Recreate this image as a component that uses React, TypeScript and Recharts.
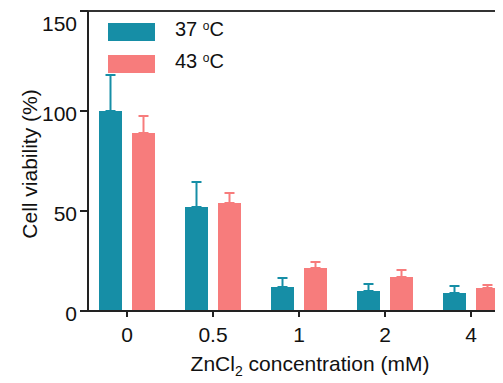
import React from "react";
import {
  BarChart,
  Bar,
  XAxis,
  YAxis,
  ErrorBar,
  ReferenceLine,
  Legend,
  Label,
} from "recharts";

const categories = ["0", "0.5", "1", "2", "4"];
const viability37 = [100, 52, 12, 10, 9];
const error37 = [18, 12.5, 4.5, 3.5, 3.5];
const viability43 = [89, 54, 21.5, 17, 11.5];
const error43 = [8.5, 5, 3, 3.5, 1.5];
const yTicks = [0, 50, 100, 150];

const TEAL = "#168ea6";
const PINK = "#f77c7c";
const AXIS = "#222";
const FONT = "'Liberation Sans', Arial, sans-serif";

const data = categories.map((c, i) => ({
  conc: c,
  v37: viability37[i],
  e37: [0, error37[i]],
  v43: viability43[i],
  e43: [0, error43[i]],
}));

const legendItems = [
  { label: "37", color: TEAL },
  { label: "43", color: PINK },
];

const renderLegend = () => (
  <div style={{ fontFamily: FONT, fontSize: 20, color: "#111" }}>
    {legendItems.map((it, i) => (
      <div
        key={it.label}
        style={{
          display: "flex",
          alignItems: "center",
          height: 18,
          marginBottom: i === 0 ? 14 : 0,
        }}
      >
        <span
          style={{
            display: "inline-block",
            width: 47,
            height: 18,
            background: it.color,
          }}
        />
        <span style={{ marginLeft: 20, position: "relative", top: -3, whiteSpace: "nowrap" }}>
          {it.label}{" "}
          <sup style={{ fontSize: 12, verticalAlign: "6px" }}>o</sup>C
        </span>
      </div>
    ))}
  </div>
);

const XTitle = (props: any) => {
  const vb = props.viewBox || {};
  const cx = (vb.x ?? 0) + 222;
  const y = (vb.y ?? 0) + 60;
  return (
    <text
      x={cx}
      y={y}
      textAnchor="middle"
      fontFamily={FONT}
      fontSize={21}
      fill="#111"
    >
      ZnCl
      <tspan fontSize={14} dy={5}>
        2
      </tspan>
      <tspan dy={-5}> concentration (mM)</tspan>
    </text>
  );
};

const YTitle = () => {
  const x = 21;
  const y = 156;
  return (
    <text
      x={x}
      y={y}
      transform={`rotate(-90, ${x}, ${y})`}
      textAnchor="middle"
      dy="0.36em"
      fontFamily={FONT}
      fontSize={21}
      fill="#111"
    >
      Cell viability (%)
    </text>
  );
};

export default function App() {
  return (
    <div style={{ width: 495, height: 375, overflow: "hidden" }}>
      <BarChart
        width={506}
        height={375}
        data={data}
        margin={{ top: 3, right: 0, left: 0, bottom: 0 }}
        barGap={10}
      >
        <XAxis
          dataKey="conc"
          height={72}
          padding={{ left: -4, right: 0 }}
          tickSize={6}
          tickMargin={10}
          axisLine={{ stroke: AXIS, strokeWidth: 2 }}
          tickLine={{ stroke: AXIS, strokeWidth: 2 }}
          tick={{ fill: "#111", fontSize: 21, fontFamily: FONT }}
        >
          <Label content={<XTitle />} />
        </XAxis>
        <YAxis
          width={80}
          domain={[0, 150]}
          ticks={yTicks}
          allowDataOverflow
          tickSize={8}
          tickMargin={3}
          axisLine={{ stroke: AXIS, strokeWidth: 2 }}
          tickLine={{ stroke: AXIS, strokeWidth: 2 }}
          tick={{ fill: "#111", fontSize: 21, fontFamily: FONT, dy: 3 }}
        >
          <Label content={<YTitle />} />
        </YAxis>
        <ReferenceLine y={150} stroke="#333" strokeWidth={2} />
        <Legend
          layout="vertical"
          align="center"
          verticalAlign="middle"
          content={renderLegend}
          wrapperStyle={{ left: 100, top: 15, width: 200, height: 50 }}
        />
        <Bar dataKey="v37" fill={TEAL} barSize={23} isAnimationActive={false}>
          <ErrorBar
            dataKey="e37"
            direction="y"
            width={5}
            stroke={TEAL}
            strokeWidth={2}
            isAnimationActive={false}
          />
        </Bar>
        <Bar dataKey="v43" fill={PINK} barSize={23} isAnimationActive={false}>
          <ErrorBar
            dataKey="e43"
            direction="y"
            width={5}
            stroke={PINK}
            strokeWidth={2}
            isAnimationActive={false}
          />
        </Bar>
      </BarChart>
    </div>
  );
}
